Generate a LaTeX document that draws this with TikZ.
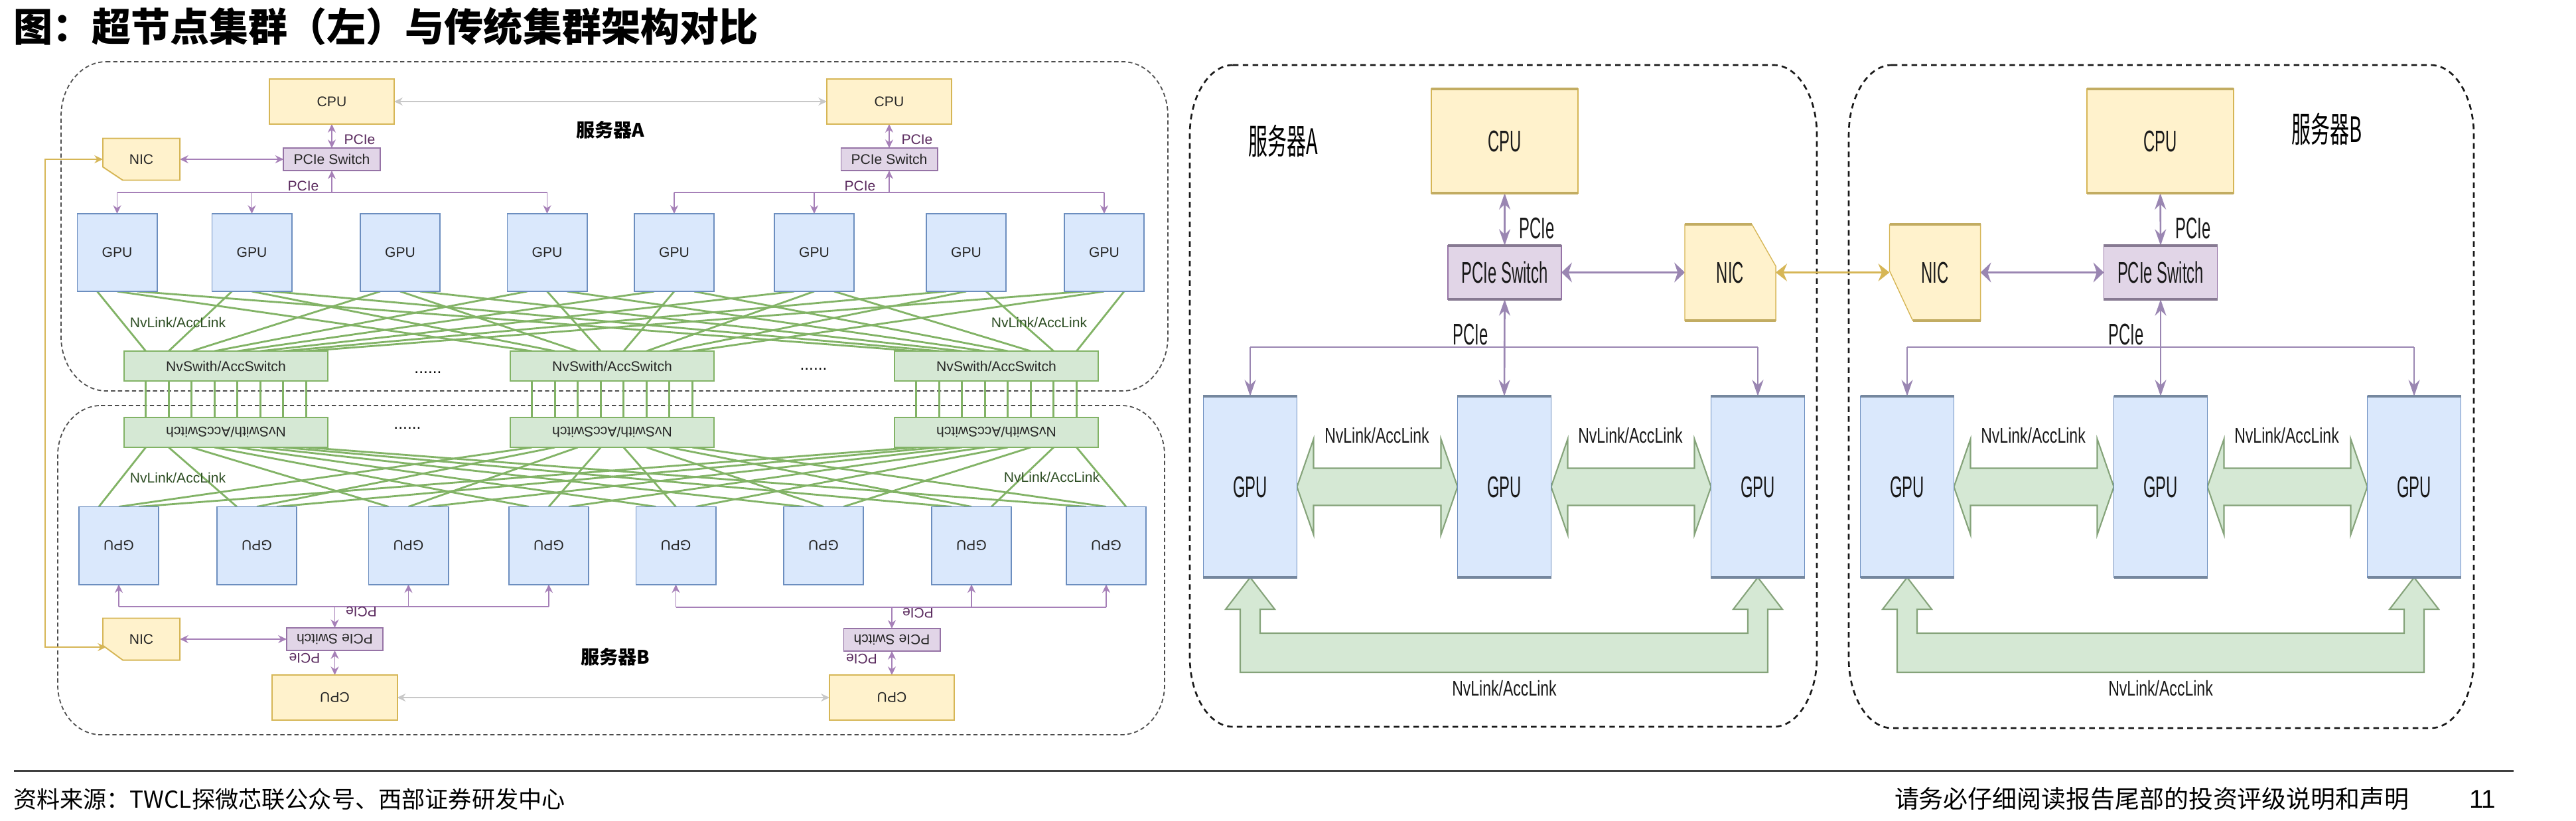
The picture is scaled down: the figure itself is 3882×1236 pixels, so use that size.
\documentclass[tikz,border=0pt]{standalone}
\usepackage{fontspec}
\usepackage{graphicx}
\usetikzlibrary{arrows.meta}
\setmainfont{Liberation Sans}
\newfontfamily\lsf{Liberation Sans}
\newfontfamily\msf[FakeStretch=0.53]{Liberation Sans}
\newfontfamily\nsf[FakeStretch=0.72]{Liberation Sans}
\newfontfamily\cjkr{Noto Sans CJK SC}
\newfontfamily\cjkc[FakeStretch=0.55]{Noto Sans CJK SC}
\newcommand\setfs[1]{\fontsize{#1}{#1}\selectfont}
\definecolor{cpuF}{HTML}{FFF2CC}
\definecolor{cpuD}{HTML}{D6B656}
\definecolor{cpuE}{HTML}{C2AC62}
\definecolor{pcF}{HTML}{E1D5E7}
\definecolor{pcD}{HTML}{9673A6}
\definecolor{pcE}{HTML}{877A92}
\definecolor{gpuF}{HTML}{DAE8FC}
\definecolor{gpuD}{HTML}{6C8EBF}
\definecolor{gpuE}{HTML}{75879E}
\definecolor{swF}{HTML}{D5E8D4}
\definecolor{swD}{HTML}{82B366}
\definecolor{meshC}{HTML}{82B366}
\definecolor{parC}{HTML}{A680B8}
\definecolor{pmC}{HTML}{9A86B2}
\definecolor{ylC}{HTML}{D6B656}
\definecolor{grC}{HTML}{C8C8C8}
\definecolor{pcT}{HTML}{5A2A5E}
\definecolor{nvT}{HTML}{2F4F25}
\definecolor{blkD}{HTML}{85A37A}
\pgfdeclarelayer{bg}\pgfdeclarelayer{mid}\pgfsetlayers{bg,mid,main}
\newcommand\erect[7]{%
  \draw[#1] ({#2+#6},#3) -- ({#4-#6},#3)
    .. controls ({#4-0.448*#6},#3) and (#4,{#3+0.448*#7}) .. (#4,{#3+#7})
    -- (#4,{#5-#7})
    .. controls (#4,{#5-0.448*#7}) and ({#4-0.448*#6},#5) .. ({#4-#6},#5)
    -- ({#2+#6},#5)
    .. controls ({#2+0.448*#6},#5) and (#2,{#5-0.448*#7}) .. (#2,{#5-#7})
    -- (#2,{#3+#7})
    .. controls (#2,{#3+0.448*#7}) and ({#2+0.448*#6},#3) .. ({#2+#6},#3) -- cycle;}
\newcommand\harrow[3]{%
  \draw[blk] (#1,#3) -- ({#1+25},{#3-72}) -- ({#1+25},{#3-28}) -- ({#2-25},{#3-28})
   -- ({#2-25},{#3-72}) -- (#2,#3) -- ({#2-25},{#3+72}) -- ({#2-25},{#3+28})
   -- ({#1+25},{#3+28}) -- ({#1+25},{#3+72}) -- cycle;}
\newcommand\uarrow[3]{%
  \draw[blk] (#1,#3) -- ({#1+37},{#3+48}) -- ({#1+15},{#3+48}) -- ({#1+15},{#3+84})
   -- ({#2-15},{#3+84}) -- ({#2-15},{#3+48}) -- ({#2-37},{#3+48}) -- (#2,#3)
   -- ({#2+37},{#3+48}) -- ({#2+15},{#3+48}) -- ({#2+15},{#3+143})
   -- ({#1-15},{#3+143}) -- ({#1-15},{#3+48}) -- ({#1-37},{#3+48}) -- cycle;}
\begin{document}
\begin{tikzpicture}[x=0.01cm,y=-0.01cm,
 lbl/.style={inner sep=0pt,outer sep=0pt},
 lb/.style={inner sep=0pt,outer sep=0pt,line width=0.55pt,font=\lsf\setfs{6},text=black!85},
 cpuLs/.style={lb,draw=cpuD,fill=cpuF,minimum width=1.88cm,minimum height=0.68cm},
 pswLs/.style={lb,draw=pcD,fill=pcF,minimum width=1.45cm,minimum height=0.34cm},
 gpuLs/.style={lb,draw=gpuD,fill=gpuF,minimum width=1.20cm,minimum height=1.17cm},
 nvsLs/.style={lb,draw=swD,fill=swF,minimum width=3.07cm,minimum height=0.45cm},
 nicLs/.style={lb,minimum width=1.16cm,minimum height=0.63cm},
 nicshape/.style={draw=cpuD,fill=cpuF,line width=0.55pt},
 pnl/.style={draw=black!70,line width=0.5pt,dash pattern=on 1.8pt off 1.2pt},
 pnlM/.style={draw=black!90,line width=0.75pt,dash pattern=on 2.4pt off 1.8pt},
 nvmesh/.style={draw=meshC,line width=0.8pt},
 parL/.style={draw=parC,line width=0.55pt,>={Stealth[length=3.6pt,width=3.4pt]}},
 ylL/.style={draw=ylC,line width=0.55pt,>={Stealth[length=3.6pt,width=3.4pt]}},
 grL/.style={draw=grC,line width=0.55pt,>={Stealth[length=3.6pt,width=3.4pt]}},
 pcl/.style={lbl,font=\lsf\setfs{6},text=pcT},
 nvl/.style={lbl,font=\lsf\setfs{6},text=nvT},
 mb/.style={inner sep=0pt,outer sep=0pt,line width=0.4pt,font=\msf\setfs{12.8},text=black!90},
 cpuMs/.style={mb,draw=cpuD,fill=cpuF,minimum width=2.21cm,minimum height=1.57cm},
 pswMs/.style={mb,draw=pcD,fill=pcF,minimum width=1.71cm,minimum height=0.81cm},
 gpuMs/.style={mb,draw=gpuD,fill=gpuF,minimum width=1.41cm,minimum height=2.73cm},
 nicMs/.style={mb,minimum width=1.37cm,minimum height=1.45cm},
 parV/.style={draw=pmC,line width=0.75pt,>={Stealth[length=7pt,width=4.8pt]}},
 parH/.style={draw=pmC,line width=0.9pt,>={Stealth[length=4.5pt,width=8.5pt]}},
 ylM/.style={draw=ylC,line width=1.1pt,>={Stealth[length=4.8pt,width=7.5pt]}},
 blk/.style={draw=blkD,fill=swF,line width=0.6pt},
 mlbl/.style={lbl,font=\msf\setfs{12.8},text=black!90},
 nvm/.style={lbl,font=\nsf\setfs{9.1},text=black!90},
]
\useasboundingbox (0,0) rectangle (3882,1236);

% ---------- title ----------
\node[lbl,anchor=west,font=\cjkr\bfseries\setfs{16.8}] (title) at (20,40) {图：超节点集群（左）与传统集群架构对比};

% ---------- left: server A (top) ----------
\node[cpuLs] (cpuA1) at (500,153) {CPU};
\node[cpuLs] (cpuA2) at (1340,153) {CPU};
\node[pswLs] (swA1) at (500,240) {PCIe Switch};
\node[pswLs] (swA2) at (1340,240) {PCIe Switch};
\node[nicLs] (nicA) at (213,240) {NIC};
\node[lbl,font=\cjkr\bfseries\setfs{8}] (srvA) at (920,196) {服务器A};
\foreach \i/\x in {1/176.5,2/379.5,3/603,4/824.5,5/1016,6/1227,7/1456,8/1664}
  \node[gpuLs] (gT\i) at (\x,380.5) {GPU};
\foreach \i/\x in {1/340.5,2/922.5,3/1501.5}
  \node[nvsLs] (sT\i) at (\x,551.5) {NvSwith/AccSwitch};
\foreach \i/\x in {1/340.5,2/922.5,3/1501.5}
  \node[nvsLs] (sB\i) at (\x,651.5) {\rotatebox{180}{NvSwith/AccSwitch}};
\foreach \i/\x in {1/179,2/387,3/615.5,4/827,5/1018.5,6/1241,7/1464,8/1667}
  \node[gpuLs] (gB\i) at (\x,822) {\rotatebox{180}{GPU}};

% ---------- left: server B (bottom) ----------
\node[pswLs] (swB1) at (504.5,963) {\rotatebox{180}{PCIe Switch}};
\node[pswLs] (swB2) at (1344,964) {\rotatebox{180}{PCIe Switch}};
\node[cpuLs] (cpuB1) at (504.5,1051) {\rotatebox{180}{CPU}};
\node[cpuLs] (cpuB2) at (1344,1051) {\rotatebox{180}{CPU}};
\node[nicLs] (nicB) at (213,963) {NIC};
\node[lbl,font=\cjkr\bfseries\setfs{8}] (srvB) at (927,990) {服务器B};

% labels left
\node[pcl] (pA1) at (542,210) {PCIe};
\node[pcl] (pA2) at (457,280.5) {PCIe};
\node[pcl] (pA3) at (1382,210) {PCIe};
\node[pcl] (pA4) at (1296,280.5) {PCIe};
\node[pcl] (pB1) at (544.5,921.5) {\rotatebox{180}{PCIe}};
\node[pcl] (pB2) at (459,991.5) {\rotatebox{180}{PCIe}};
\node[pcl] (pB3) at (1383.5,923.5) {\rotatebox{180}{PCIe}};
\node[pcl] (pB4) at (1298.5,992.5) {\rotatebox{180}{PCIe}};
\node[nvl] (nA1) at (268,486) {NvLink/AccLink};
\node[nvl] (nA2) at (1566,486) {NvLink/AccLink};
\node[nvl] (nB1) at (268,720) {NvLink/AccLink};
\node[nvl] (nB2) at (1585,719) {NvLink/AccLink};
\node[lbl,font=\lsf\setfs{7}] (d1) at (645,561) {......};
\node[lbl,font=\lsf\setfs{7}] (d2) at (1226,556) {......};
\node[lbl,font=\lsf\setfs{7}] (d3) at (614,645) {......};

% ---------- middle: server A ----------
\node[cpuMs] (cpuM) at (2267.5,212.5) {CPU};
\node[pswMs] (swM) at (2267.5,410.5) {PCIe Switch};
\node[nicMs] (nicM) at (2607.5,410.5) {NIC};
\node[gpuMs] (gM1) at (1884,733.5) {GPU};
\node[gpuMs] (gM2) at (2267,733.5) {GPU};
\node[gpuMs] (gM3) at (2649,733.5) {GPU};
\node[lbl,font=\cjkc\setfs{15}] (srvM) at (1934,212) {服务器A};
\node[mlbl] (pcM1) at (2316,344) {PCIe};
\node[mlbl] (pcM2) at (2216,504) {PCIe};
\node[nvm] (nvM1) at (2075,656) {NvLink/AccLink};
\node[nvm] (nvM2) at (2457,656) {NvLink/AccLink};
\node[nvm] (nvM3) at (2267,1037) {NvLink/AccLink};

% ---------- right: server B ----------
\node[cpuMs] (cpuR) at (3255.5,212.5) {CPU};
\node[pswMs] (swR) at (3256,410.5) {PCIe Switch};
\node[nicMs] (nicR) at (2916,410.5) {NIC};
\node[gpuMs] (gR1) at (2874,733.5) {GPU};
\node[gpuMs] (gR2) at (3256,733.5) {GPU};
\node[gpuMs] (gR3) at (3638,733.5) {GPU};
\node[lbl,font=\cjkc\setfs{15}] (srvR) at (3506,194) {服务器B};
\node[mlbl] (pcR1) at (3305,344) {PCIe};
\node[mlbl] (pcR2) at (3204,504) {PCIe};
\node[nvm] (nvR1) at (3064,656) {NvLink/AccLink};
\node[nvm] (nvR2) at (3446,656) {NvLink/AccLink};
\node[nvm] (nvR3) at (3256,1037) {NvLink/AccLink};

% thick top/bottom edges (middle/right boxes)
\foreach \n/\c in {cpuM/cpuE,cpuR/cpuE,swM/pcE,swR/pcE,gM1/gpuE,gM2/gpuE,gM3/gpuE,gR1/gpuE,gR2/gpuE,gR3/gpuE}{
  \draw[\c,line width=1.1pt] (\n.north west) -- (\n.north east);
  \draw[\c,line width=1.1pt] (\n.south west) -- (\n.south east);}

% ---------- footer ----------
\node[lbl,anchor=west,font=\cjkr\setfs{10}] (src) at (20,1204) {资料来源：TWCL探微芯联公众号、西部证券研发中心};
\node[lbl,anchor=west,font=\cjkr\setfs{10.5}] (disc) at (2855,1204) {请务必仔细阅读报告尾部的投资评级说明和声明};
\node[lbl,anchor=west,font=\lsf\setfs{11}] (pg) at (3721,1204) {11};

% ---------- middle layer: NIC shapes, block arrows ----------
\begin{pgfonlayer}{mid}
\draw[nicshape] (nicA.north west) -- (nicA.north east) -- (nicA.south east) -- ([xshift=0.30cm]nicA.south west) -- ([yshift=0.20cm]nicA.south west) -- cycle;
\draw[nicshape] (nicB.north west) -- (nicB.north east) -- (nicB.south east) -- ([xshift=0.30cm]nicB.south west) -- ([yshift=0.22cm]nicB.south west) -- cycle;
\draw[draw=cpuD,fill=cpuF,line width=0.4pt] (nicM.north west) -- ([xshift=-0.36cm]nicM.north east) -- ([yshift=-0.63cm]nicM.north east) -- (nicM.south east) -- (nicM.south west) -- cycle;
\draw[cpuE,line width=1.1pt] (nicM.north west) -- ([xshift=-0.36cm]nicM.north east);
\draw[cpuE,line width=1.1pt] (nicM.south west) -- (nicM.south east);
\draw[draw=cpuD,fill=cpuF,line width=0.4pt] (nicR.north west) -- (nicR.north east) -- (nicR.south east) -- ([xshift=0.35cm]nicR.south west) -- ([yshift=0.75cm]nicR.south west) -- cycle;
\draw[cpuE,line width=1.1pt] (nicR.north west) -- (nicR.north east);
\draw[cpuE,line width=1.1pt] ([xshift=0.35cm]nicR.south west) -- (nicR.south east);
\harrow{1954.5}{2196.5}{733.5}
\harrow{2337.5}{2578.5}{733.5}
\harrow{2944.5}{3185.5}{733.5}
\harrow{3326.5}{3567.5}{733.5}
\uarrow{1884}{2649}{870}
\uarrow{2874}{3638}{870}
\end{pgfonlayer}

% ---------- background layer: panels and connectors ----------
\begin{pgfonlayer}{bg}
\fill[white] (0,0) rectangle (3882,1236);
\erect{pnl}{92}{93}{1760}{589}{68}{82}
\erect{pnl}{87}{611}{1755}{1107}{65}{75}
\erect{pnlM}{1793}{98}{2738}{1095}{65}{105}
\erect{pnlM}{2786}{98}{3728}{1097}{65}{105}
\draw[black!75,line width=0.85pt] (21,1161) -- (3788,1161);

% NvLink mesh
\foreach \k in {1,...,8}{
  \foreach \j in {1,2,3}{
    \pgfmathsetmacro\gx{(\j-2)*0.30}
    \pgfmathsetmacro\sx{(\k-4.5)*0.345}
    \draw[nvmesh] ([xshift=\gx cm]gT\k.south) -- ([xshift=\sx cm]sT\j.north);
    \draw[nvmesh] ([xshift=\gx cm]gB\k.north) -- ([xshift=\sx cm]sB\j.south);
  }
}
\foreach \j in {1,2,3}{
  \foreach \k in {1,...,8}{
    \pgfmathsetmacro\sx{(\k-4.5)*0.345}
    \draw[nvmesh] ([xshift=\sx cm]sT\j.south) -- ([xshift=\sx cm]sB\j.north);
  }
}

% PCIe (left, top)
\coordinate (busA1) at (500,290);
\coordinate (busA2) at (1340,290);
\draw[parL] (gT1.north |- busA1) -- (gT4.north |- busA1);
\foreach \g in {1,2,4} \draw[parL,->] (gT\g.north |- busA1) -- (gT\g.north);
\draw[parL,->] (busA1) -- (swA1.south);
\draw[parL,<->] (cpuA1.south) -- (swA1.north);
\draw[parL,<->] (nicA.east) -- (swA1.west);
\draw[parL] (gT5.north |- busA2) -- (gT8.north |- busA2);
\foreach \g in {5,6,8} \draw[parL,->] (gT\g.north |- busA2) -- (gT\g.north);
\draw[parL,->] (busA2) -- (swA2.south);
\draw[parL,<->] (cpuA2.south) -- (swA2.north);
% PCIe (left, bottom)
\coordinate (busB1) at (504.5,914);
\coordinate (busB2) at (1344,915);
\draw[parL] (gB1.south |- busB1) -- (gB4.south |- busB1);
\foreach \g in {1,3,4} \draw[parL,->] (gB\g.south |- busB1) -- (gB\g.south);
\draw[parL,->] (busB1) -- (swB1.north);
\draw[parL,<->] (swB1.south) -- (cpuB1.north);
\draw[parL,<->] (nicB.east) -- (swB1.west);
\draw[parL] (gB5.south |- busB2) -- (gB8.south |- busB2);
\foreach \g in {5,7,8} \draw[parL,->] (gB\g.south |- busB2) -- (gB\g.south);
\draw[parL,->] (busB2) -- (swB2.north);
\draw[parL,<->] (swB2.south) -- (cpuB2.north);
% NIC link and CPU links (left)
\draw[ylL,<->] (nicA.west) -- ++(-87,0) |- ([xshift=0.05cm,yshift=-0.12cm]nicB.west);
\draw[grL,<->] (cpuA1.east) -- (cpuA2.west);
\draw[grL,<->] (cpuB1.east) -- (cpuB2.west);

% middle / right PCIe
\draw[parV,<->] (cpuM.south) -- (swM.north);
\draw[parH,<->] (swM.east) -- (nicM.west);
\coordinate (busM) at (2267,523);
\draw[parV] (gM1.north |- busM) -- (gM3.north |- busM);
\draw[parV,->] (gM1.north |- busM) -- (gM1.north);
\draw[parV,->] (gM3.north |- busM) -- (gM3.north);
\draw[parV,<->] (swM.south) -- (gM2.north);
\draw[parV,<->] (cpuR.south) -- (swR.north);
\draw[parH,<->] (nicR.east) -- (swR.west);
\coordinate (busR) at (3256,523);
\draw[parV] (gR1.north |- busR) -- (gR3.north |- busR);
\draw[parV,->] (gR1.north |- busR) -- (gR1.north);
\draw[parV,->] (gR3.north |- busR) -- (gR3.north);
\draw[parV,<->] (swR.south) -- (gR2.north);
\draw[ylM,<->] (nicM.east) -- (nicR.west);
\end{pgfonlayer}
\end{tikzpicture}
\end{document}
